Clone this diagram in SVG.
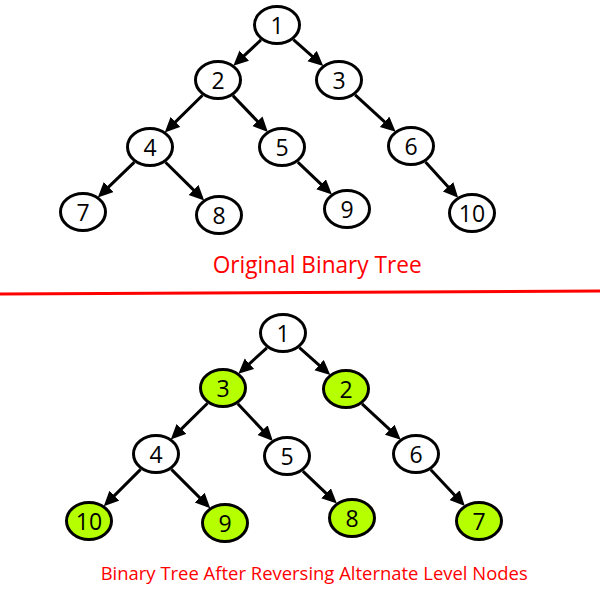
<svg xmlns="http://www.w3.org/2000/svg" width="600" height="600" viewBox="0 0 600 600">
<style>
.node ellipse{fill:#ffffff;stroke:#000000;stroke-width:3}
.node.hl ellipse{fill:#b5ff00}
.node text{font-family:"Open Sans","Liberation Sans",sans-serif;font-size:23px;fill:#000000;text-anchor:middle}
.edges line{stroke:#000000;stroke-width:3;marker-end:url(#arr)}
.title{font-family:"Open Sans","Liberation Sans",sans-serif;fill:#ff0000}
</style>
<defs>
<marker id="arr" markerUnits="userSpaceOnUse" markerWidth="15" markerHeight="15" refX="6" refY="7" orient="auto">
<path d="M0,0 L15,7 L0,14 z" fill="#000000"/>
</marker>
</defs>
<rect width="600" height="600" fill="#ffffff"/>
<g class="edges" id="connectors">
<line x1="261" y1="39.9" x2="239.9" y2="59.7"/>
<line x1="293.4" y1="39.6" x2="316.6" y2="60.1"/>
<line x1="202.5" y1="95.3" x2="171.2" y2="126.1"/>
<line x1="232.9" y1="95.6" x2="261.6" y2="125.6"/>
<line x1="355.1" y1="94.8" x2="389" y2="125.8"/>
<line x1="134.4" y1="162.2" x2="104.3" y2="191.2"/>
<line x1="165.5" y1="162.3" x2="197.8" y2="194.1"/>
<line x1="297.8" y1="162.1" x2="325.4" y2="188.4"/>
<line x1="425.5" y1="161.9" x2="452.1" y2="191.2"/>
<line x1="266.9" y1="347.8" x2="245" y2="367.8"/>
<line x1="299.4" y1="347.6" x2="323.6" y2="369.1"/>
<line x1="207.5" y1="403.3" x2="177.2" y2="433.1"/>
<line x1="237.8" y1="403.7" x2="266.7" y2="434.5"/>
<line x1="362" y1="403.9" x2="394.1" y2="433.7"/>
<line x1="140.6" y1="469.4" x2="110.1" y2="499.9"/>
<line x1="171.4" y1="469.4" x2="203.9" y2="501.9"/>
<line x1="302.8" y1="471.1" x2="330.4" y2="497.4"/>
<line x1="430.8" y1="469.7" x2="458.7" y2="499.5"/>
</g>
<g id="t1" class="node"><ellipse cx="277" cy="25" rx="22.5" ry="18.5"/><text x="277" y="33.5">1</text></g>
<g id="t2" class="node"><ellipse cx="218" cy="80" rx="22.5" ry="18.5"/><text x="218" y="88.5">2</text></g>
<g id="t3" class="node"><ellipse cx="339" cy="80" rx="22.5" ry="18.5"/><text x="339" y="88.5">3</text></g>
<g id="t4" class="node"><ellipse cx="150" cy="147" rx="22.5" ry="18.5"/><text x="150" y="155.5">4</text></g>
<g id="t5" class="node"><ellipse cx="282" cy="147" rx="22.5" ry="18.5"/><text x="282" y="155.5">5</text></g>
<g id="t6" class="node"><ellipse cx="411" cy="146" rx="22.5" ry="18.5"/><text x="411" y="154.5">6</text></g>
<g id="t7" class="node"><ellipse cx="83" cy="212" rx="22.5" ry="18.5"/><text x="83" y="220.5">7</text></g>
<g id="t8" class="node"><ellipse cx="219" cy="215" rx="22.5" ry="18.5"/><text x="219" y="223.5">8</text></g>
<g id="t9" class="node"><ellipse cx="347" cy="209" rx="22.5" ry="18.5"/><text x="347" y="217.5">9</text></g>
<g id="t10" class="node"><ellipse cx="472" cy="213" rx="22.5" ry="18.5"/><text x="472" y="221.5">10</text></g>
<text class="title" x="212.7" y="272.7" font-size="24" textLength="209" lengthAdjust="spacingAndGlyphs">Original Binary Tree</text>
<line x1="0" y1="294" x2="600" y2="291" stroke="#ff0000" stroke-width="3"/>
<g id="b1" class="node"><ellipse cx="283" cy="333" rx="22.5" ry="18.5"/><text x="283" y="341.5">1</text></g>
<g id="b3" class="node hl"><ellipse cx="223" cy="388" rx="22.5" ry="18.5"/><text x="223" y="396.5">3</text></g>
<g id="b2" class="node hl"><ellipse cx="346" cy="389" rx="22.5" ry="18.5"/><text x="346" y="397.5">2</text></g>
<g id="b4" class="node"><ellipse cx="156" cy="454" rx="22.5" ry="18.5"/><text x="156" y="462.5">4</text></g>
<g id="b5" class="node"><ellipse cx="287" cy="456" rx="22.5" ry="18.5"/><text x="287" y="464.5">5</text></g>
<g id="b6" class="node"><ellipse cx="416" cy="454" rx="22.5" ry="18.5"/><text x="416" y="462.5">6</text></g>
<g id="b10" class="node hl"><ellipse cx="89" cy="521" rx="22.5" ry="18.5"/><text x="89" y="529.5">10</text></g>
<g id="b9" class="node hl"><ellipse cx="225" cy="523" rx="22.5" ry="18.5"/><text x="225" y="531.5">9</text></g>
<g id="b8" class="node hl"><ellipse cx="352" cy="518" rx="22.5" ry="18.5"/><text x="352" y="526.5">8</text></g>
<g id="b7" class="node hl"><ellipse cx="479" cy="521" rx="22.5" ry="18.5"/><text x="479" y="529.5">7</text></g>
<text class="title" x="100.7" y="580" font-size="17.5" textLength="427" lengthAdjust="spacingAndGlyphs">Binary Tree After Reversing Alternate Level Nodes</text>
</svg>
